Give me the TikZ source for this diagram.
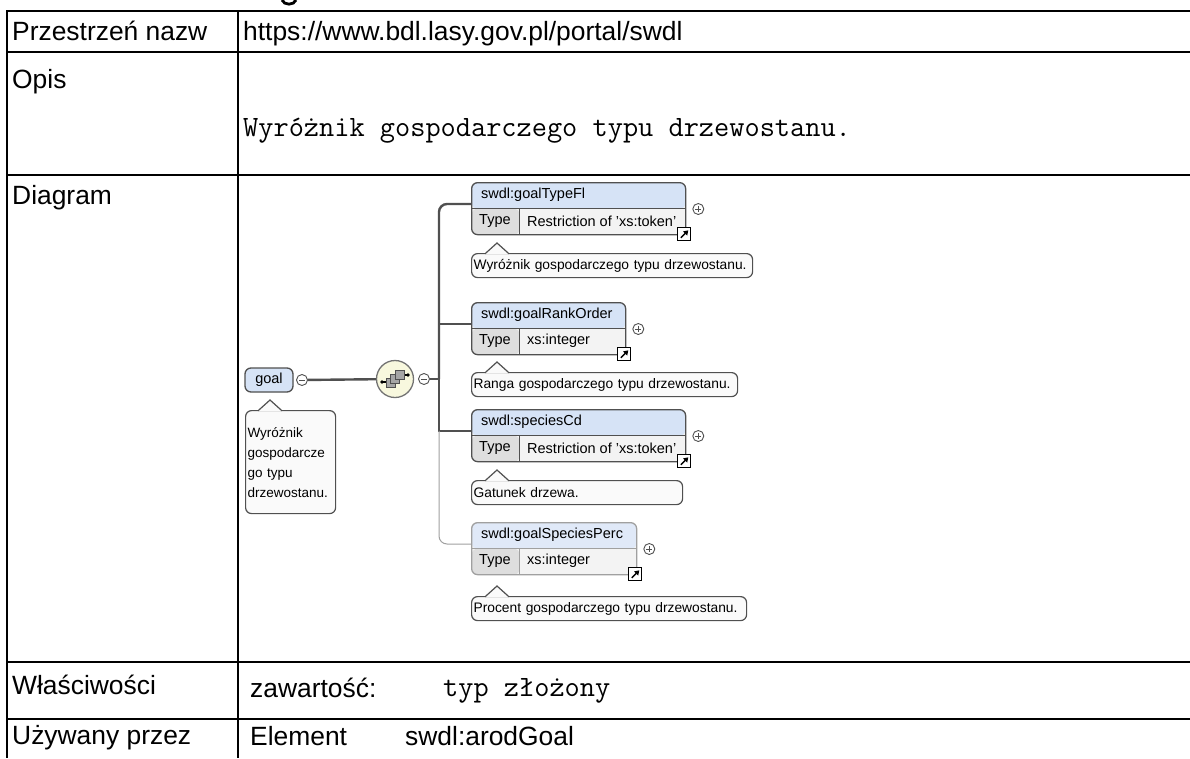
\documentclass[tikz,border=0pt]{standalone}
\usepackage{fontspec}
\setmainfont{Liberation Sans}
\usepackage{tikz}
\usetikzlibrary{calc}
\usetikzlibrary{positioning}
\usetikzlibrary{arrows.meta}
\definecolor{hdrblue}{RGB}{214,227,246}
\definecolor{hdrblueopt}{RGB}{224,233,248}
\definecolor{typegray}{RGB}{222,222,222}
\definecolor{valgray}{RGB}{243,243,243}
\definecolor{edgegray}{RGB}{80,80,80}
\definecolor{optgray}{RGB}{160,160,160}
\definecolor{seqfill}{RGB}{248,248,222}
\definecolor{notefill}{RGB}{250,250,250}

\begin{document}
\begin{tikzpicture}[
    x=1pt,y=-1pt,
    tabline/.style={line width=2.2pt,draw=black},
    celltext/.style={anchor=base west,inner sep=0pt,font=\fontsize{26.4}{31}\selectfont},
    monotext/.style={anchor=base west,inner sep=0pt,font=\fontsize{29.5}{34}\selectfont\ttfamily},
    smalltext/.style={font=\fontsize{14.5}{17}\selectfont},
    notetext/.style={font=\fontsize{13.8}{16}\selectfont},
    conn/.style={line width=2.4pt,draw=edgegray},
    optconn/.style={line width=1pt,draw=optgray},
    toggle/.style={circle,draw=edgegray,line width=0.9pt,fill=white,minimum size=11pt,inner sep=0pt},
    togminus/.style={toggle,path picture={
        \draw[line width=0.9pt] ([xshift=-3pt]path picture bounding box.center) -- ([xshift=3pt]path picture bounding box.center);}},
    togplus/.style={toggle,path picture={
        \draw[line width=0.9pt] ([xshift=-3pt]path picture bounding box.center) -- ([xshift=3pt]path picture bounding box.center);
        \draw[line width=0.9pt] ([yshift=-3pt]path picture bounding box.center) -- ([yshift=3pt]path picture bounding box.center);}},
    elbox/.style 2 args={draw=#1,fill=valgray,line width=1.3pt,rounded corners=6pt,anchor=north west,
        minimum height=52pt,inner sep=0pt,
        path picture={
          \fill[#2] (path picture bounding box.north west) rectangle ([yshift=-26pt]path picture bounding box.north east);
          \fill[typegray] ([yshift=-26pt]path picture bounding box.north west) rectangle ([xshift=48pt]path picture bounding box.south west);
          \draw[line width=1.2pt,draw=#1] ([yshift=-26pt]path picture bounding box.north west) -- ([yshift=-26pt]path picture bounding box.north east);
          \draw[line width=1.2pt,draw=#1] ([shift={(48pt,-26pt)}]path picture bounding box.north west) -- ([xshift=48pt]path picture bounding box.south west);
        }},
    refmark/.style={draw=black,fill=white,line width=1.2pt,minimum size=13pt,inner sep=0pt,
        path picture={
          \draw[line width=1.5pt,-{Triangle[length=4.5pt,width=5.5pt]}]
            ([shift={(3pt,3pt)}]path picture bounding box.south west) -- ([shift={(-2.5pt,-2.5pt)}]path picture bounding box.north east);
        }},
    callout/.style={draw=edgegray,line width=1.2pt,fill=notefill,rounded corners=6pt,
        anchor=north west,inner xsep=2pt,inner ysep=4pt,minimum height=24pt,notetext,align=left},
    notetail/.style={draw=edgegray,line width=1.2pt,fill=notefill},
  ]
  \useasboundingbox (0,0) rectangle (1190,758);
  \fill[white] (0,0) rectangle (1190,758);

  % cut-off stroke at the top edge
  \draw[line width=2.8pt] (282,0) .. controls (284,5.5) and (294,5.5) .. (296,0);

  % table grid
  \foreach \yy in {11,52,175,662,719}{
    \draw[tabline] (7,\yy) -- (1190,\yy);
  }
  \draw[tabline] (7,10) -- (7,758);
  \draw[tabline] (238,10) -- (238,758);

  % table texts
  \node[celltext] (nslbl) at (12,40) {Przestrzeń nazw};
  \node[celltext] (nsval) at (243,40) {https://www.bdl.lasy.gov.pl/portal/swdl};
  \node[celltext] (desclbl) at (12,88) {Opis};
  \node[monotext] (descval) at (243,136) {Wyróżnik gospodarczego typu drzewostanu.};
  \node[celltext] (diaglbl) at (12,204) {Diagram};
  \node[celltext] (proplbl) at (12,694) {Właściwości};
  \node[celltext] (propkey) at (250,697) {zawartość:};
  \node[monotext] (propval) at (443,696) {typ złożony};
  \node[celltext] (usedlbl) at (12,744) {Używany przez};
  \node[celltext] (usedkey) at (250,745) {Element};
  \node[celltext] (usedval) at (405,745) {swdl:arodGoal};

  % root element
  \node[draw=edgegray,line width=1.3pt,fill=hdrblue,rounded corners=6pt,
        minimum width=48pt,minimum height=24pt,inner sep=0pt,smalltext] (goal) at (269,380) {goal};
  \node[togminus] (goalminus) at (302,380) {};
  \node[callout,text width=86pt,minimum height=103pt,font=\fontsize{13.5}{20}\selectfont] (goaldoc) at (245,410)
    {Wyróżnik\\gospodarcze\\go typu\\drzewostanu.};
  \filldraw[notetail] ($(goaldoc.north west)+(13,0.8)$) -- ($(goaldoc.north west)+(25,-10)$) -- ($(goaldoc.north west)+(37,0.8)$);

  % sequence compositor
  \node[circle,draw=gray!90!black,line width=1.3pt,fill=seqfill,minimum size=37pt,inner sep=0pt] (seq) at (395,379) {};
  \draw[line width=1.1pt] ([shift={(-13,3)}]seq.center) -- ([shift={(-6,3)}]seq.center);
  \draw[line width=1.1pt] ([shift={(6,-4)}]seq.center) -- ([shift={(13,-4)}]seq.center);
  \fill ([shift={(-13,3)}]seq.center) circle (1.8pt);
  \fill ([shift={(13,-4)}]seq.center) circle (1.8pt);
  \foreach \dx/\dy in {-4.5/3.5,0/-0.5,4.5/-4.5}{
    \filldraw[fill=gray!70,draw=edgegray,line width=0.7pt] ([shift={(\dx-4.5,\dy-4.5)}]seq.center) rectangle ++(9,9);
  }
  \node[togminus] (seqminus) at (424,379) {};
  \coordinate (trunk) at (439,379);
  \draw[conn] (goalminus) -- (seq);
  \draw[conn] (seqminus) -- (trunk);

  % child elements
  \foreach \nm/\yy/\ww/\ttl/\typ/\cy/\cw/\dsc/\ed/\hd in {
      typefl/182/214/swdl:goalTypeFl/Restriction of 'xs:token'/253/277/Wyróżnik gospodarczego typu drzewostanu./edgegray/hdrblue,
      rankorder/302/154/swdl:goalRankOrder/xs:integer/372/262/Ranga gospodarczego typu drzewostanu./edgegray/hdrblue,
      speciescd/409/214/swdl:speciesCd/Restriction of 'xs:token'/480/207/Gatunek drzewa./edgegray/hdrblue,
      speciesperc/522/165/swdl:goalSpeciesPerc/xs:integer/596/271/Procent gospodarczego typu drzewostanu./optgray/hdrblueopt}{
    \node[elbox={\ed}{\hd},minimum width=\ww pt] (\nm) at (471,\yy) {};
    \node[smalltext,anchor=west,inner sep=0pt] (\nm-ttl) at ($(\nm.north west)+(10,13)$) {\ttl};
    \node[smalltext,anchor=west,inner sep=0pt] (\nm-tk) at ($(\nm.north west)+(8,39)$) {Type};
    \node[smalltext,anchor=west,inner sep=0pt] (\nm-tv) at ($(\nm.north west)+(56,39)$) {\typ};
    \node[togplus] (\nm-plus) at ($(\nm.north east)+(12,27)$) {};
    \node[refmark] (\nm-ref) at ($(\nm.south east)+(-2,-1)$) {};
    \coordinate (\nm-in) at ($(\nm.north west)+(0,22)$);
    \node[callout,text width=\cw pt] (\nm-doc) at (471,\cy) {\dsc};
    \filldraw[notetail] ($(\nm-doc.north west)+(14,0.8)$) -- ($(\nm-doc.north west)+(26,-10)$) -- ($(\nm-doc.north west)+(38,0.8)$);
  }

  % branches
  \draw[conn,rounded corners=8pt] (trunk) |- (typefl-in);
  \draw[conn] (trunk |- rankorder-in) -- (rankorder-in);
  \draw[conn] (trunk) -- (trunk |- speciescd-in) -- (speciescd-in);
  \draw[optconn,rounded corners=8pt] (trunk |- speciescd-in) |- (speciesperc-in);
\end{tikzpicture}
\end{document}
